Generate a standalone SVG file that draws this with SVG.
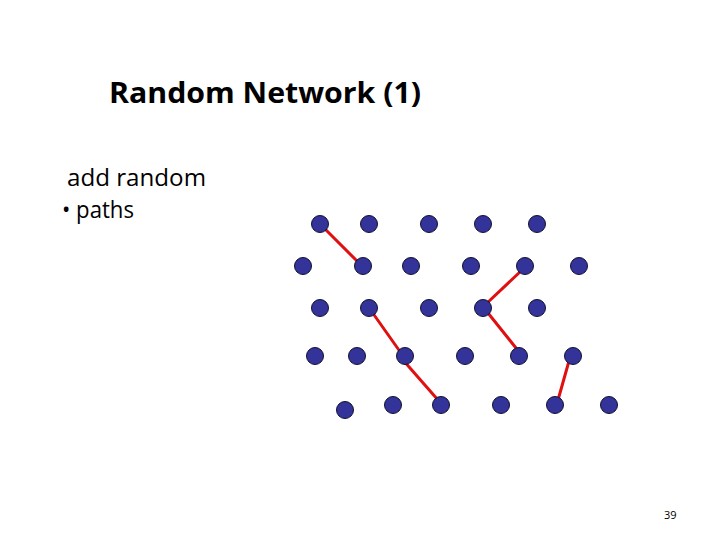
<svg xmlns="http://www.w3.org/2000/svg" width="720" height="540" viewBox="0 0 720 540">
<style>
.n{fill:#333399;stroke:#111133;stroke-width:1}
.e{stroke:#e01010;stroke-width:3;stroke-linecap:round}
text{font-family:"Open Sans","Liberation Sans",Arial,sans-serif;fill:#000}
</style>
<rect width="720" height="540" fill="#fff"/>
<text x="109" y="103" font-size="28" font-weight="bold" textLength="312" lengthAdjust="spacingAndGlyphs">Random Network (1)</text>
<text x="67" y="186" font-size="23" textLength="139" lengthAdjust="spacingAndGlyphs">add random</text>
<text x="62" y="218" font-size="23" textLength="72" lengthAdjust="spacingAndGlyphs">• paths</text>
<text x="664" y="519" font-size="11" fill="#555">39</text>
<g id="connectors">
<line class="e" x1="324" y1="228" x2="359" y2="263"/>
<line class="e" x1="521" y1="271" x2="486" y2="304"/>
<line class="e" x1="372" y1="312" x2="401" y2="353"/>
<line class="e" x1="488" y1="313" x2="520" y2="353"/>
<line class="e" x1="403" y1="360" x2="438" y2="400"/>
<line class="e" x1="569" y1="361" x2="558" y2="400"/>
</g>
<g id="n1"><circle class="n" cx="320" cy="224" r="8.5"/></g>
<g id="n2"><circle class="n" cx="369" cy="224" r="8.5"/></g>
<g id="n3"><circle class="n" cx="429" cy="224" r="8.5"/></g>
<g id="n4"><circle class="n" cx="483" cy="224" r="8.5"/></g>
<g id="n5"><circle class="n" cx="537" cy="224" r="8.5"/></g>
<g id="n6"><circle class="n" cx="303" cy="266" r="8.5"/></g>
<g id="n7"><circle class="n" cx="363" cy="266" r="8.5"/></g>
<g id="n8"><circle class="n" cx="411" cy="266" r="8.5"/></g>
<g id="n9"><circle class="n" cx="471" cy="266" r="8.5"/></g>
<g id="n10"><circle class="n" cx="525" cy="266" r="8.5"/></g>
<g id="n11"><circle class="n" cx="579" cy="266" r="8.5"/></g>
<g id="n12"><circle class="n" cx="320" cy="308" r="8.5"/></g>
<g id="n13"><circle class="n" cx="369" cy="308" r="8.5"/></g>
<g id="n14"><circle class="n" cx="429" cy="308" r="8.5"/></g>
<g id="n15"><circle class="n" cx="483" cy="308" r="8.5"/></g>
<g id="n16"><circle class="n" cx="537" cy="308" r="8.5"/></g>
<g id="n17"><circle class="n" cx="315" cy="356" r="8.5"/></g>
<g id="n18"><circle class="n" cx="357" cy="356" r="8.5"/></g>
<g id="n19"><circle class="n" cx="405" cy="356" r="8.5"/></g>
<g id="n20"><circle class="n" cx="465" cy="356" r="8.5"/></g>
<g id="n21"><circle class="n" cx="519" cy="356" r="8.5"/></g>
<g id="n22"><circle class="n" cx="573" cy="356" r="8.5"/></g>
<g id="n23"><circle class="n" cx="345" cy="410" r="8.5"/></g>
<g id="n24"><circle class="n" cx="393" cy="405" r="8.5"/></g>
<g id="n25"><circle class="n" cx="441" cy="405" r="8.5"/></g>
<g id="n26"><circle class="n" cx="501" cy="405" r="8.5"/></g>
<g id="n27"><circle class="n" cx="555" cy="405" r="8.5"/></g>
<g id="n28"><circle class="n" cx="609" cy="405" r="8.5"/></g>
</svg>
